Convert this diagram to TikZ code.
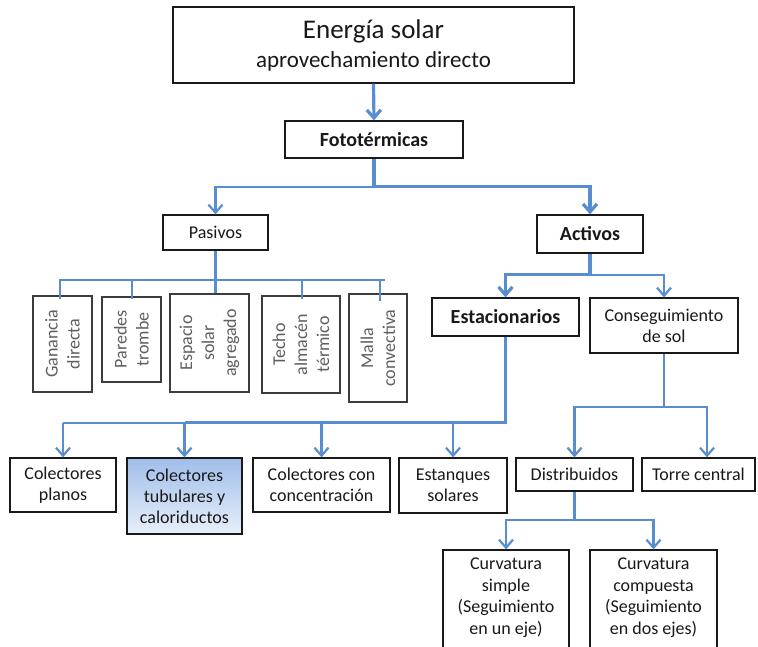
\documentclass[tikz,border=0pt]{standalone}
\usepackage{fontspec}
\setmainfont{Carlito}
\usetikzlibrary{arrows.meta,calc,shadings}

\definecolor{link}{RGB}{88,142,207}
\definecolor{frame}{RGB}{25,25,25}
\definecolor{softtext}{RGB}{95,95,95}
\definecolor{gradtop}{RGB}{160,190,234}
\definecolor{gradbot}{RGB}{232,239,250}

\tikzset{
  box/.style={draw=frame, line width=1.3pt, inner sep=0pt, align=center,
    text=black!90, font=\fontsize{18}{21}\selectfont},
  boldbox/.style={box, font=\fontsize{20}{24}\selectfont\bfseries},
  pbox/.style={draw=frame!85, line width=1.3pt, inner sep=0pt},
  ptext/.style={rotate=90, align=center, text=softtext, inner sep=0pt,
    font=\fontsize{18}{22}\selectfont},
  plain/.style={align=center, inner sep=0pt, text=black!90,
    font=\fontsize{18}{21.5}\selectfont},
  wire/.style={draw=link, line width=2.2pt},
  wirebold/.style={draw=link, line width=3.2pt},
  tip/.style={-{Straight Barb[length=8pt,width=14pt]}},
}

\begin{document}
\begin{tikzpicture}[x=1pt,y=-1pt]
\useasboundingbox (0,0) rectangle (758,647);
\fill[white] (0,0) rectangle (758,647);
\clip (0,0) rectangle (758,647);

% --- top levels
\node[box, minimum width=401pt, minimum height=76pt] (title) at (373.5,45)
  {{\fontsize{27}{29}\selectfont Energía solar}\\[8pt]
   {\fontsize{23}{27}\selectfont aprovechamiento directo}};
\node[boldbox, minimum width=178pt, minimum height=37pt] (foto) at (374,139.5) {Fototérmicas};
\node[box, minimum width=105pt, minimum height=35pt] (pasivos) at (215.5,232.5) {Pasivos};
\node[boldbox, minimum width=106pt, minimum height=38pt] (activos) at (590,234) {Activos};

% --- passive systems (vertical labels)
\node[pbox, minimum width=59pt, minimum height=96pt] (ganancia) at (62.5,344) {};
\node[ptext] (gananciat) at (ganancia) {Ganancia\\directa};
\node[pbox, minimum width=59pt, minimum height=85pt] (paredes) at (131.5,339.5) {};
\node[ptext] (paredest) at (paredes) {Paredes\\trombe};
\node[pbox, minimum width=79pt, minimum height=98pt] (espacio) at (209.5,343) {};
\node[ptext] (espaciot) at (espacio) {Espacio\\solar\\agregado};
\node[pbox, minimum width=78pt, minimum height=97pt] (techo) at (301,344.5) {};
\node[ptext] (techot) at (techo) {Techo\\almacén\\térmico};
\node[pbox, minimum width=58pt, minimum height=108pt] (malla) at (378,348) {};
\node[ptext] (mallat) at (malla) {Malla\\convectiva};

% --- active systems
\node[boldbox, minimum width=147pt, minimum height=38pt] (estac) at (505.5,317) {Estacionarios};
\node[box, minimum width=148pt, minimum height=55pt] (conseg) at (664,325.5) {Conseguimiento\\de sol};

\node[box, minimum width=106pt, minimum height=54pt] (planos) at (63,485) {Colectores\\planos};
\node[box, top color=gradtop, bottom color=gradbot, minimum width=115pt, minimum height=76pt]
  (tubul) at (184.5,496) {Colectores\\tubulares y\\caloriductos};
\node[box, minimum width=137pt, minimum height=54pt] (concen) at (321.5,485) {Colectores con\\concentración};
\node[box, minimum width=108pt, minimum height=55pt] (estanq) at (453,485.5) {Estanques\\solares};
\node[box, minimum width=117pt, minimum height=33pt] (distrib) at (574.5,474.5) {Distribuidos};
\node[box, minimum width=113pt, minimum height=33pt] (torre) at (698.5,474.5) {Torre central};

\node[box, minimum width=126pt, minimum height=110pt] (csimple) at (506,605) {};
\node[plain] (csimplet) at (506,597.5) {Curvatura\\simple\\(Seguimiento\\en un eje)};
\node[box, minimum width=127pt, minimum height=110pt] (ccomp) at (653.5,605) {};
\node[plain] (ccompt) at (653.5,597.5) {Curvatura\\compuesta\\(Seguimiento\\en dos ejes)};

% --- connectors: top
\draw[wirebold, tip] (title.south) -- (foto.north);
\coordinate (fj) at ($(foto.south)+(0,28)$);
\draw[wirebold] (foto.south) -- (fj);
\draw[wire, tip] (fj) -| (pasivos.north);
\draw[wirebold, tip] (fj) -| (activos.north);

% --- connectors: passive branch
\coordinate (pj) at ($(pasivos.south)+(0,29)$);
\coordinate (g1) at ($(ganancia.north)+(-2.5,4)$);
\coordinate (p1) at ($(paredes.north)+(0.5,3)$);
\coordinate (t1) at ($(techo.north)+(1,4)$);
\coordinate (m1) at ($(malla.north)+(2,8)$);
\draw[wire] (pasivos.south) -- (pj |- espacio.north);
\draw[wire] ($(g1 |- pj)+(-1,0)$) -- ($(m1 |- pj)+(5,0)$);
\draw[wire] (g1 |- pj) -- (g1);
\draw[wire] (p1 |- pj) -- (p1);
\draw[wire] (t1 |- pj) -- (t1);
\draw[wire] (m1 |- pj) -- (m1);

% --- connectors: active branch
\coordinate (aj) at ($(activos.south)+(0,21)$);
\draw[wirebold] (activos.south) -- (aj);
\draw[wirebold, tip] (aj) -| (estac.north);
\draw[wire, tip] (aj) -| (conseg.north);

\coordinate (ej) at ($(estac.south)+(0,86)$);
\draw[wirebold] (estac.south) -- (ej) -- (ej -| tubul.north);
\draw[wire] (ej -| tubul.north) -- (ej -| planos.north);
\draw[wire, tip] (ej -| planos.north) -- (planos.north);
\draw[wire, tip] (ej -| tubul.north) -- (tubul.north);
\draw[wire, tip] (ej -| concen.north) -- (concen.north);
\draw[wire, tip] (ej -| estanq.north) -- (estanq.north);

\coordinate (cj) at ($(conseg.south)+(0,53)$);
\coordinate (tt) at ($(torre.north)+(8.5,0)$);
\draw[wire] (conseg.south) -- (cj);
\draw[wire, tip] (cj) -| (distrib.north);
\draw[wire, tip] (cj) -| (tt);

\coordinate (dj) at ($(distrib.south)+(0,28)$);
\draw[wirebold] (distrib.south) -- (dj);
\draw[wire, tip] (dj) -| (csimple.north);
\draw[wire, tip] (dj) -| (ccomp.north);
\end{tikzpicture}
\end{document}
